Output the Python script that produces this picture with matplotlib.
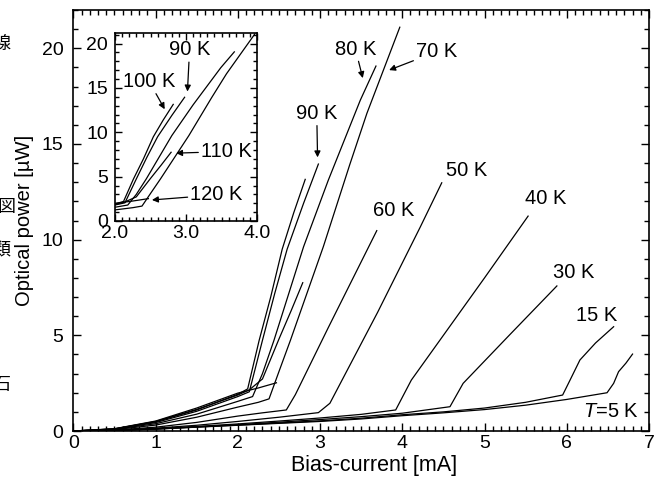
import matplotlib
matplotlib.use("Agg")
import matplotlib.pyplot as plt
from matplotlib.ticker import MultipleLocator, FormatStrFormatter

plt.rcParams['font.family'] = ['Liberation Sans', 'DejaVu Sans']
plt.rcParams['mathtext.fontset'] = 'custom'
plt.rcParams['mathtext.it'] = 'Liberation Sans:italic'
plt.rcParams['mathtext.rm'] = 'Liberation Sans'

# bias current [mA] / optical power [uW], one pair per temperature
i_5K = [0, 0.5, 1.0, 1.5, 2.0, 2.5, 3.0, 3.5, 4.0, 4.5, 5.0, 5.5, 6.0, 6.49, 6.57, 6.63, 6.72, 6.80]
p_5K = [0, 0.03, 0.1, 0.2, 0.3, 0.4, 0.5, 0.63, 0.8, 0.95, 1.12, 1.35, 1.65, 2.0, 2.49, 3.1, 3.55, 4.02]

i_15K = [0, 0.5, 1.0, 1.5, 2.0, 2.5, 3.0, 3.5, 4.0, 4.5, 5.0, 5.5, 5.95, 6.04, 6.16, 6.35, 6.57]
p_15K = [0, 0.03, 0.1, 0.21, 0.31, 0.42, 0.53, 0.67, 0.85, 1.0, 1.2, 1.5, 1.88, 2.66, 3.71, 4.6, 5.45]

i_30K = [0, 0.5, 1.0, 1.5, 2.0, 2.5, 3.0, 3.5, 4.0, 4.58, 4.74, 5.3, 5.88]
p_30K = [0, 0.03, 0.11, 0.22, 0.33, 0.46, 0.6, 0.75, 0.93, 1.27, 2.49, 5.0, 7.58]

i_40K = [0, 0.5, 1.0, 1.5, 2.0, 2.5, 3.0, 3.5, 3.92, 4.11, 4.6, 5.0, 5.53]
p_40K = [0, 0.03, 0.12, 0.24, 0.37, 0.52, 0.68, 0.87, 1.10, 2.66, 5.6, 8.0, 11.23]

i_50K = [0, 0.5, 1.0, 1.5, 2.0, 2.5, 2.98, 3.12, 3.7, 4.22, 4.48]
p_50K = [0, 0.04, 0.15, 0.3, 0.5, 0.72, 0.96, 1.45, 6.2, 10.67, 12.97]

i_60K = [0, 0.5, 1.0, 1.5, 2.0, 2.3, 2.59, 2.7, 3.1, 3.69]
p_60K = [0, 0.05, 0.2, 0.45, 0.78, 0.95, 1.10, 1.9, 5.4, 10.47]

i_70K = [0, 0.5, 1.0, 1.5, 2.0, 2.25, 2.38, 2.5, 2.64, 3.04, 3.36, 3.57, 3.97]
p_70K = [0, 0.07, 0.31, 0.72, 1.25, 1.5, 1.68, 3.1, 4.74, 9.63, 13.9, 16.6, 21.1]

i_80K = [0, 0.5, 1.0, 1.5, 2.0, 2.18, 2.3, 2.44, 2.8, 3.1, 3.49, 3.68]
p_80K = [0, 0.09, 0.38, 0.88, 1.55, 1.8, 3.0, 4.74, 9.63, 13.1, 17.29, 19.07]

i_90K = [0, 0.5, 1.0, 1.5, 2.0, 2.14, 2.3, 2.45, 2.6, 2.8, 2.98]
p_90K = [0, 0.1, 0.44, 1.03, 1.8, 2.05, 4.74, 7.2, 9.5, 11.9, 13.95]

i_100K = [0, 0.5, 1.0, 1.5, 2.0, 2.12, 2.26, 2.4, 2.54, 2.68, 2.82]
p_100K = [0, 0.11, 0.48, 1.1, 1.92, 2.2, 4.74, 7.0, 9.5, 11.4, 13.15]

i_110K = [0, 0.5, 1.0, 1.5, 2.0, 2.14, 2.3, 2.5, 2.65, 2.79]
p_110K = [0, 0.11, 0.5, 1.13, 1.88, 2.15, 2.72, 4.8, 6.3, 7.75]

i_120K = [0, 0.5, 1.0, 1.5, 2.0, 2.25, 2.47]
p_120K = [0, 0.12, 0.52, 1.2, 1.98, 2.25, 2.52]

low_T = [(i_5K, p_5K), (i_15K, p_15K), (i_30K, p_30K), (i_40K, p_40K),
         (i_50K, p_50K), (i_60K, p_60K)]
high_T = [(i_70K, p_70K), (i_80K, p_80K), (i_90K, p_90K), (i_100K, p_100K),
          (i_110K, p_110K), (i_120K, p_120K)]

fig = plt.figure(figsize=(6.64, 4.78), dpi=100)
ax = fig.add_axes([0.1104, 0.0983, 0.867, 0.8808])

for x, y in low_T + high_T:
    ax.plot(x, y, color='black', lw=0.9)

ax.set_xlim(0, 7)
ax.set_ylim(0, 22)
ax.xaxis.set_major_locator(MultipleLocator(1))
ax.xaxis.set_minor_locator(MultipleLocator(0.1))
ax.yaxis.set_major_locator(MultipleLocator(5))
ax.yaxis.set_minor_locator(MultipleLocator(1))
ax.tick_params(which='both', direction='in', top=True, right=True, width=1.0)
ax.tick_params(which='major', length=6, labelsize=14)
ax.tick_params(which='minor', length=3.5)
ax.tick_params(axis='x', pad=3)
ax.tick_params(axis='y', pad=7)
for s in ax.spines.values():
    s.set_linewidth(1.2)

ax.set_xlabel('Bias-current [mA]', fontsize=15.5)
ax.xaxis.set_label_coords(0.522, -0.056)
ax.set_ylabel('Optical power [µW]', fontsize=14.5, labelpad=6)

lbl = dict(fontsize=14.5, ha='center', va='center')
arr = dict(arrowstyle='-|>', lw=0.9, color='black', mutation_scale=9, shrinkA=0, shrinkB=0)
ax.annotate('80 K', xy=(3.52, 18.44), xytext=(3.43, 19.96), arrowprops=arr, **lbl)
ax.annotate('70 K', xy=(3.84, 18.86), xytext=(4.42, 19.82), arrowprops=arr, **lbl)
ax.annotate('90 K', xy=(2.97, 14.3), xytext=(2.96, 16.6), arrowprops=arr, **lbl)
ax.text(3.89, 11.51, '60 K', **lbl)
ax.text(4.78, 13.6, '50 K', **lbl)
ax.text(5.74, 12.16, '40 K', **lbl)
ax.text(6.08, 8.27, '30 K', **lbl)
ax.text(6.36, 6.02, '15 K', **lbl)
ax.text(6.88, 1.0, '$T$=5 K', fontsize=14.5, ha='right', va='center')

# inset, 2-4 mA, only the high temperature curves
ins = fig.add_axes([0.1732, 0.5377, 0.2139, 0.3933])
for x, y in high_T:
    ins.plot(x, y, color='black', lw=0.9)
ins.set_xlim(2, 4)
ins.set_ylim(0, 21.2)
ins.xaxis.set_major_locator(MultipleLocator(1))
ins.xaxis.set_minor_locator(MultipleLocator(0.1))
ins.xaxis.set_major_formatter(FormatStrFormatter('%.1f'))
ins.yaxis.set_major_locator(MultipleLocator(5))
ins.yaxis.set_minor_locator(MultipleLocator(1))
ins.tick_params(which='both', direction='in', top=True, right=True, width=1.0)
ins.tick_params(which='major', length=5, labelsize=14)
ins.tick_params(which='minor', length=3)
ins.tick_params(axis='x', pad=3)
ins.tick_params(axis='y', pad=5)
for s in ins.spines.values():
    s.set_linewidth(1.2)

ins.annotate('90 K', xy=(3.02, 14.6), xytext=(3.05, 19.3), arrowprops=arr, **lbl)
ins.annotate('100 K', xy=(2.70, 12.6), xytext=(2.48, 15.74), arrowprops=arr, **lbl)
ins.annotate('110 K', xy=(2.86, 7.65), xytext=(3.57, 7.83), arrowprops=arr, **lbl)
ins.annotate('120 K', xy=(2.52, 2.37), xytext=(3.43, 2.94), arrowprops=arr, **lbl)

# clipped characters from the scanned page at the left edge
cjk = dict(family=['Noto Sans CJK JP', 'DejaVu Sans'], fontsize=13, ha='center', va='center')
for ch, px, py in [('線', 2, 45), ('図', 6, 207), ('類', 1, 250), ('石', 2, 385)]:
    fig.text(px / 664, 1 - py / 478, ch, **cjk)

fig.savefig('out.png', dpi=100)
